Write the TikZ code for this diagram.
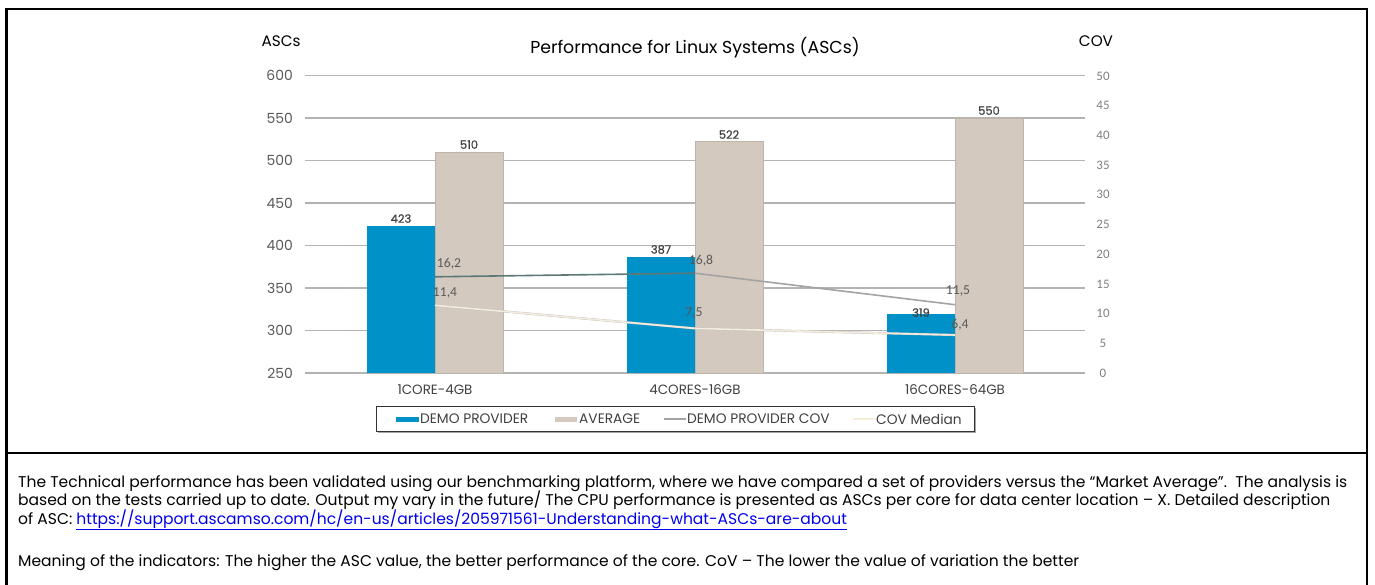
\documentclass[tikz,border=0pt]{standalone}
\usepackage{fontspec}
\usepackage{graphicx}
\setmainfont{Poppins}
\newfontfamily\calfont{Carlito}
\newfontfamily\pmed{Poppins}[FakeBold=0.5]
\definecolor{demo}{HTML}{0091C8}
\definecolor{avg}{HTML}{D3C9BF}
\definecolor{avgedge}{HTML}{BDB4AB}
\definecolor{grid}{HTML}{B3B3B3}
\definecolor{covA}{HTML}{5E7876}
\definecolor{covB}{HTML}{A3A3A3}
\definecolor{med}{HTML}{F4ECDD}
\definecolor{lab}{HTML}{404040}
\definecolor{axl}{HTML}{595959}
\definecolor{rax}{HTML}{808080}
\definecolor{link}{HTML}{0000EE}
\tikzset{
  frame/.style={line width=2.2bp, black},
  gridline/.style={grid, line width=1.3bp},
  demobar/.style={fill=demo, draw=none},
  avgbar/.style={fill=avg, draw=avgedge, line width=0.6bp},
  barlab/.style={font=\pmed\fontsize{11.5}{13}\selectfont, text=lab, anchor=south, inner sep=1bp},
  covlab/.style={font=\calfont\fontsize{13.7}{15}\selectfont, text=axl, inner sep=0bp},
  leftax/.style={font=\fontsize{14}{16}\selectfont, text=axl, anchor=east, inner sep=0bp},
  rightax/.style={font=\calfont\fontsize{13}{15}\selectfont, text=rax, inner sep=0bp},
  catlab/.style={font=\fontsize{13.5}{15}\selectfont, text=lab, inner sep=0bp},
  legtext/.style={font=\fontsize{13.8}{15}\selectfont, text=lab, anchor=west, inner sep=0bp},
  bodytext/.style={font=\fontsize{15.6}{17}\selectfont, text=black, anchor=base west, inner sep=0bp},
}
\begin{document}
\begin{tikzpicture}[x=1bp,y=-1bp]
\useasboundingbox (0,0) rectangle (1375,585);
% frame
\draw[frame] (6.5,585) -- (6.5,9) -- (1367,9) -- (1367,585);
\draw[frame] (6.5,453) -- (1367,453);
% grid lines and left axis
\foreach \v [count=\i from 0] in {250,300,...,600}{
  \pgfmathsetmacro{\yy}{373-(\v-250)*0.85}
  \draw[gridline] (305,\yy) -- (1085,\yy);
  \node[leftax] (la\i) at (293,\yy) {\v};
}
\foreach \c [count=\i from 0] in {0,5,...,50}{
  \pgfmathsetmacro{\yy}{373-\c*5.94}
  \node[rightax] (ra\i) at (1103,\yy) {\c};
}
\node[font=\fontsize{15.3}{17}\selectfont, text=black] (asclab) at (281,41) {ASCs};
\node[font=\fontsize{15.3}{17}\selectfont, text=black] (covlab) at (1096,41) {COV};
\node[font=\fontsize{17.4}{19}\selectfont, text=black] (title) at (695,48) {Performance for Linux Systems (ASCs)};
% bars
\fill[demobar] (367,373) rectangle (435,225.95);
\draw[avgbar] (435,373) rectangle (503,152.0);
\fill[demobar] (627,373) rectangle (695,256.55);
\draw[avgbar] (695,373) rectangle (763,141.8);
\fill[demobar] (887,373) rectangle (955,314.35);
\draw[avgbar] (955,373) rectangle (1023,118.0);
% bar labels
\node[barlab] (b1) at (401,224) {423};
\node[barlab] (b2) at (469,150) {510};
\node[barlab] (b3) at (661,255) {387};
\node[barlab] (b4) at (729,140) {522};
\node[barlab] (b5) at (921,318) {319};
\node[barlab] (b6) at (989,116) {550};
% COV lines
\coordinate (c1) at (435,276.8);
\coordinate (c2) at (695,273.2);
\coordinate (c3) at (955,304.7);
\coordinate (m1) at (435,305.3);
\coordinate (m2) at (695,328.4);
\coordinate (m3) at (955,335.0);
\draw[covA, line width=1.6bp] (c1) -- (c2);
\draw[covB, line width=1.6bp] (c2) -- (c3);
\draw[black!25, line width=2.2bp] (m1) -- (m2) -- (m3);
\draw[med, line width=1.6bp] (m1) -- (m2) -- (m3);
\node[covlab] (l1) at (449,264) {16,2};
\node[covlab] (l2) at (701,261) {16,8};
\node[covlab] (l3) at (958,291) {11,5};
\node[covlab] (l4) at (445,293) {11,4};
\node[covlab] (l5) at (694,313) {7,5};
\node[covlab] (l6) at (960,325) {6,4};
% category labels
\node[catlab] (k1) at (435,390) {1CORE-4GB};
\node[catlab] (k2) at (695,390) {4CORES-16GB};
\node[catlab] (k3) at (955,390) {16CORES-64GB};
% legend
\fill[black!35] (378,408) rectangle (976,433);
\draw[draw=black!80, fill=white, line width=1bp] (376,406) rectangle (974,431);
\fill[demo] (396,416.5) rectangle (419,421.5);
\node[legtext] (t1) at (420,419) {DEMO PROVIDER};
\fill[avg] (555,416.5) rectangle (577,421.5);
\node[legtext] (t2) at (579,419) {AVERAGE};
\coordinate (g1) at (664,419); \coordinate (g2) at (686,419);
\draw[covB, line width=1.5bp] (g1) -- (g2);
\node[legtext] (t3) at (687,419) {DEMO PROVIDER COV};
\coordinate (h1) at (853,419); \coordinate (h2) at (875,419);
\draw[med, line width=1.5bp] (h1) -- (h2);
\node[legtext] (t4) at (876,419) {COV Median};
% body text
\node[bodytext] (p1) at (18,487) {The Technical performance has been validated using our benchmarking platform, where we have compared a set of providers versus the “Market Average”.\ \ The analysis is};
\node[bodytext] (p2) at (18,505) {based on the tests carried up to date. Output my vary in the future/ The CPU performance is presented as ASCs per core for data center location – X. Detailed description};
\node[bodytext] (p3) at (18,524) {of ASC: {\color{link}\underline{https://support.ascamso.com/hc/en-us/articles/205971561-Understanding-what-ASCs-are-about}}};
\node[bodytext] (p4) at (18,566) {Meaning of the indicators: The higher the ASC value, the better performance of the core. CoV – The lower the value of variation the better};
\end{tikzpicture}
\end{document}
